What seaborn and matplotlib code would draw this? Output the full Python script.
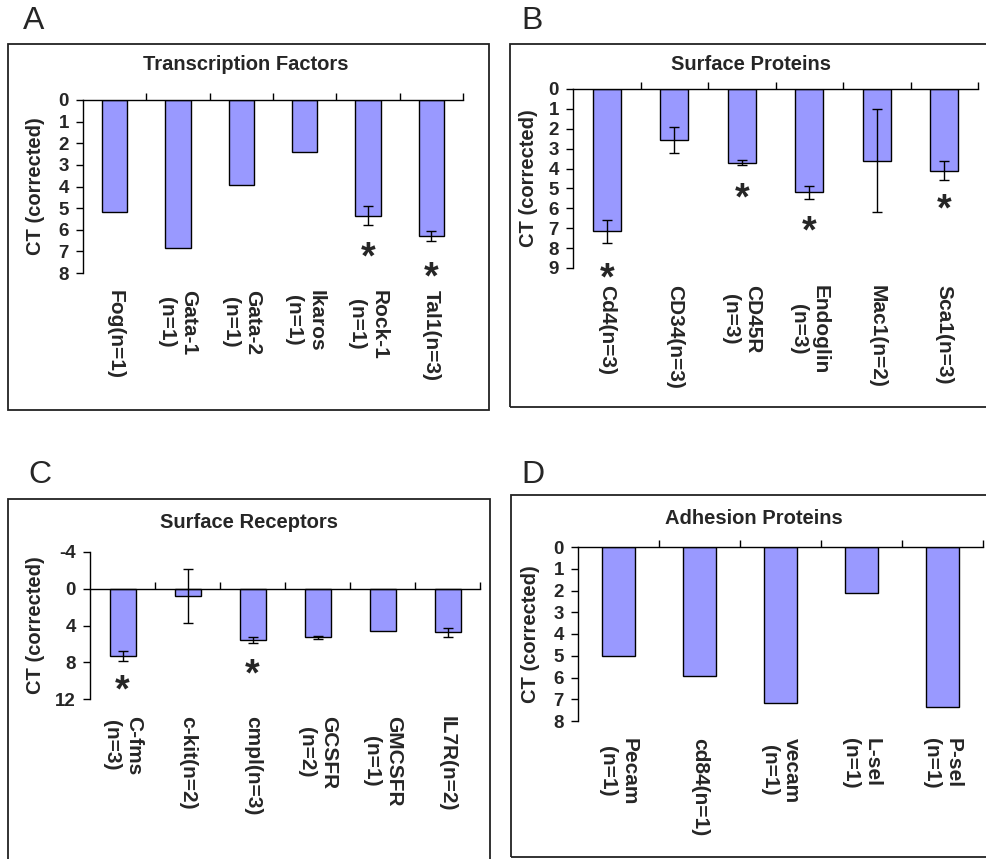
import numpy as np
import matplotlib
matplotlib.use("Agg")
import matplotlib.pyplot as plt
from matplotlib.patches import Rectangle
import seaborn as sns

sns.set_style("white")
plt.rcParams['font.family'] = ['Liberation Sans', 'DejaVu Sans']
plt.rcParams['font.weight'] = 'bold'

bar_color = '#9999FF'

# A - transcription factors
tf_labels = ['Fog(n=1)', 'Gata-1\n(n=1)', 'Gata-2\n(n=1)', 'Ikaros\n(n=1)', 'Rock-1\n(n=1)', 'Tal1(n=3)']
tf_ct = [5.2, 6.85, 3.95, 2.4, 5.35, 6.3]
tf_err = [0, 0, 0, 0, 0.45, 0.22]
tf_star = [None, None, None, None, 6.95, 7.85]

# B - surface proteins
sp_labels = ['Cd4(n=3)', 'CD34(n=3)', 'CD45R\n(n=3)', 'Endoglin\n(n=3)', 'Mac1(n=2)', 'Sca1(n=3)']
sp_ct = [7.15, 2.55, 3.7, 5.2, 3.6, 4.1]
sp_err = [0.58, 0.65, 0.12, 0.33, 2.6, 0.47]
sp_star = [9.15, None, 5.15, 6.8, None, 5.7]

# C - surface receptors
sr_labels = ['C-fms\n(n=3)', 'c-kit(n=2)', 'cmpl(n=3)', 'GCSFR\n(n=2)', 'GMCSFR\n(n=1)', 'IL7R(n=2)']
sr_ct = [7.3, 0.75, 5.6, 5.3, 4.6, 4.75]
sr_err = [0.55, 2.95, 0.3, 0.2, 0, 0.45]
sr_star = [10.3, None, 8.5, None, None, None]

# D - adhesion proteins
ad_labels = ['Pecam\n(n=1)', 'cd84(n=1)', 'vecam\n(n=1)', 'L-sel\n(n=1)', 'P-sel\n(n=1)']
ad_ct = [5.0, 5.95, 7.15, 2.1, 7.35]

W, H = 986, 859
fig = plt.figure(figsize=(9.86, 8.59), dpi=100)


def px_axes(x0, y0, x1, y1):
    return fig.add_axes([x0 / W, 1 - y1 / H, (x1 - x0) / W, (y1 - y0) / H])


def box(x0, y0, x1, y1):
    fig.add_artist(Rectangle((x0 / W, 1 - y1 / H), (x1 - x0) / W, (y1 - y0) / H,
                             transform=fig.transFigure, fill=False, lw=1.3, ec='#222222'))


def panel(ax, labels, vals, errs, stars, ylim, yticks, label_x, width=0.4):
    n = len(labels)
    sns.barplot(x=labels, y=vals, color=bar_color, saturation=1, edgecolor='black',
                linewidth=1, width=width, ax=ax)
    if errs is not None:
        for i, (v, e) in enumerate(zip(vals, errs)):
            if e:
                ax.errorbar(i, v, yerr=e, fmt='none', ecolor='black', elinewidth=1,
                            capsize=3.5, capthick=1)
    if stars is not None:
        for i, s in enumerate(stars):
            if s is not None:
                ax.annotate('*', (i, s), xytext=(0, -6), textcoords='offset points',
                            ha='center', va='center', fontsize=27, fontweight='bold',
                            annotation_clip=False)
    ax.set_xlim(-0.5, n - 0.5)
    ax.set_ylim(*ylim)
    ax.set_yticks(yticks)
    ax.set_yticklabels([str(t) for t in yticks])
    ax.set_xticks(np.arange(n))
    ax.set_xticklabels(labels)
    ax.set_xticks(np.arange(n) + 0.5, minor=True)
    ax.tick_params(axis='x', which='major', length=0, pad=12, labelsize=15,
                   labelrotation=270)
    for lab in ax.get_xticklabels():
        lab.set_linespacing(1.3)
    ax.tick_params(axis='x', which='minor', top=True, bottom=False, direction='out',
                   length=5, width=1, color='black')
    ax.tick_params(axis='y', direction='out', length=5, width=1, color='black', left=True,
                   pad=5, labelsize=13.5)
    ax.spines['bottom'].set_visible(False)
    ax.spines['right'].set_visible(False)
    ax.spines['top'].set_visible(True)
    ax.spines['top'].set_position(('data', 0))
    for s in ['top', 'left']:
        ax.spines[s].set_color('black')
        ax.spines[s].set_linewidth(1)
    ax.set_xlabel('')
    ax.set_ylabel('CT (corrected)', fontsize=14.5, fontweight='bold')
    ax.yaxis.set_label_coords(label_x, 0.5)
    ax.patch.set_alpha(0)


box(8, 44, 489, 410)
box(510, 44, 995, 407)
box(8, 499, 490, 870)
box(511, 495, 995, 857)

axA = px_axes(83, 100, 463, 273)
panel(axA, tf_labels, tf_ct, tf_err, tf_star, (8, 0), list(range(0, 9)), -0.1)

axB = px_axes(573, 89, 978, 268)
panel(axB, sp_labels, sp_ct, sp_err, sp_star, (9, 0), list(range(0, 10)), -0.087, width=0.42)

axC = px_axes(90, 552, 480, 699)
panel(axC, sr_labels, sr_ct, sr_err, sr_star, (12, -4), [-4, 0, 4, 8, 12], -0.115)

axD = px_axes(578, 547, 983, 721)
panel(axD, ad_labels, ad_ct, None, None, (8, 0), list(range(0, 9)), -0.094, width=0.41)

titles = [('Transcription Factors', 246, 65), ('Surface Proteins', 751, 65),
          ('Surface Receptors', 249, 523), ('Adhesion Proteins', 754, 518)]
for t, x, y in titles:
    fig.text(x / W, 1 - y / H, t, ha='center', va='center', fontsize=14.5, fontweight='bold')

letters = [('A', 23, 21), ('B', 521, 21), ('C', 28, 475), ('D', 521, 475)]
for t, x, y in letters:
    fig.text(x / W, 1 - y / H, t, ha='left', va='center', fontsize=23, fontweight='normal',
             family=['Liberation Sans', 'DejaVu Sans'])

fig.savefig('out.png', dpi=100, facecolor='white')
